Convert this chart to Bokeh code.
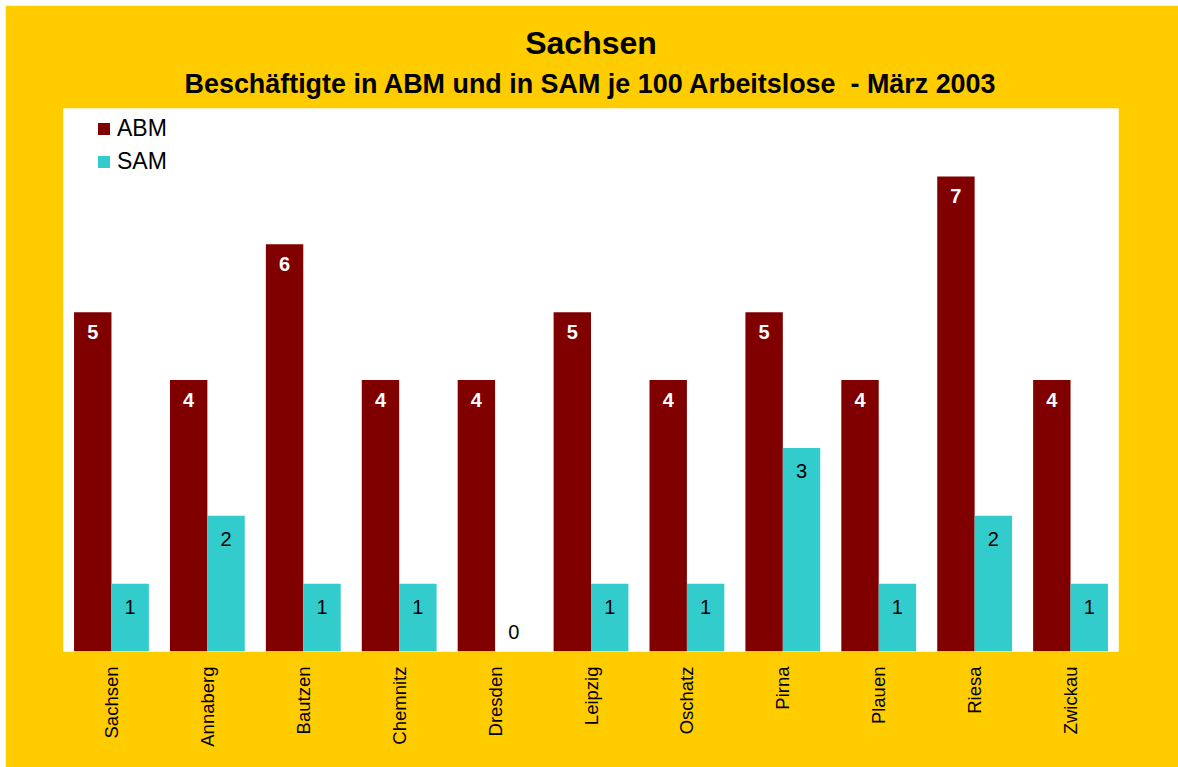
from math import pi
from bokeh.plotting import figure
from bokeh.models import ColumnDataSource, FactorRange, Range1d, Title, Legend, LegendItem, LabelSet, Spacer
from bokeh.layouts import row, column
from bokeh.transform import dodge
from bokeh.core.properties import value
from bokeh.embed import file_html
from bokeh.resources import INLINE

regions = ["Sachsen", "Annaberg", "Bautzen", "Chemnitz", "Dresden", "Leipzig",
           "Oschatz", "Pirna", "Plauen", "Riesa", "Zwickau"]
abm = [5, 4, 6, 4, 4, 5, 4, 5, 4, 7, 4]
sam = [1, 2, 1, 1, 0, 1, 1, 3, 1, 2, 1]

FONT = "Liberation Sans"
GOLD = "#FFCC00"
ABM_COL = "#800000"
SAM_COL = "#33CCCC"

src = ColumnDataSource(dict(
    region=regions, abm=abm, sam=sam,
    abm_txt=[str(v) for v in abm],
    sam_txt=[str(v) for v in sam],
    sam_off=[-23 if v > 0 else 20 for v in sam],
))

p = figure(x_range=FactorRange(*regions), y_range=Range1d(0, 8),
           width=1173, height=762, output_backend="svg", toolbar_location=None,
           min_border_left=58, min_border_right=60, min_border_bottom=116, min_border_top=103)
p.background_fill_color = "white"
p.border_fill_color = GOLD
p.outline_line_color = None
p.xgrid.grid_line_color = None
p.ygrid.grid_line_color = None
p.yaxis.visible = False

p.xaxis.axis_line_color = None
p.xaxis.major_tick_line_color = None
p.xaxis.minor_tick_line_color = None
p.xaxis.major_label_orientation = pi / 2
p.xaxis.major_label_standoff = 9
p.xaxis.major_label_text_font = FONT
p.xaxis.major_label_text_font_size = "18.5px"
p.xaxis.major_label_text_color = "black"
p.x_range.range_padding = 0
p.x_range.group_padding = 0

r1 = p.vbar(x=dodge("region", -0.195, range=p.x_range), top="abm", width=0.39,
            source=src, fill_color=ABM_COL, line_color=None)
r2 = p.vbar(x=dodge("region", 0.195, range=p.x_range), top="sam", width=0.39,
            source=src, fill_color=SAM_COL, line_color=None)

l1 = LabelSet(x=dodge("region", -0.195, range=p.x_range), y="abm", text="abm_txt",
              source=src, y_offset=-20, text_align="center", text_baseline="middle",
              text_color="white", text_font=value(FONT), text_font_style="bold",
              text_font_size="20px")
l2 = LabelSet(x=dodge("region", 0.195, range=p.x_range), y="sam", text="sam_txt",
              source=src, y_offset="sam_off", text_align="center", text_baseline="middle",
              text_color="black", text_font=value(FONT), text_font_size="20px")
p.add_layout(l1)
p.add_layout(l2)

legend = Legend(items=[LegendItem(label="ABM", renderers=[r1]),
                       LegendItem(label="SAM", renderers=[r2])],
                location=(33, 476))
legend.margin = 0
legend.padding = 0
legend.glyph_width = 15
legend.glyph_height = 15
legend.label_standoff = 6
legend.spacing = 6
legend.label_text_font = FONT
legend.label_text_font_size = "23px"
legend.label_text_color = "black"
legend.background_fill_alpha = 0
legend.border_line_color = None
p.add_layout(legend)

p.add_layout(Title(text="Beschäftigte in ABM und in SAM je 100 Arbeitslose \u00a0- März 2003",
                   align="center", text_font=FONT, text_font_size="26.9px", text_color="black",
                   text_font_style="bold", standoff=19), "above")
p.add_layout(Title(text="Sachsen", align="center", text_font=FONT, text_font_size="32px",
                   text_color="black", text_font_style="bold", standoff=-7), "above")

layout = row(Spacer(width=5), column(Spacer(height=5), p))
open("out.html", "w").write(file_html(layout, INLINE))
